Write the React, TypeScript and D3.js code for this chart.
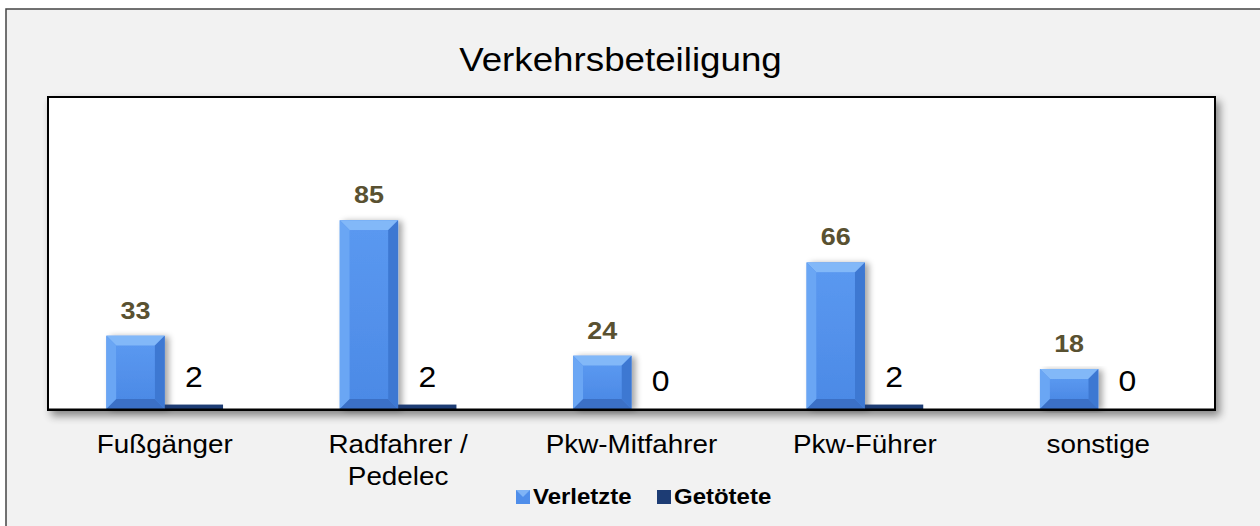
import React from "react";
import * as d3 from "d3";

const categories = ["Fußgänger", "Radfahrer / Pedelec", "Pkw-Mitfahrer", "Pkw-Führer", "sonstige"];
const verletzte = [33, 85, 24, 66, 18];
const getoetete = [2, 2, 0, 2, 0];
const seriesNames = ["Verletzte", "Getötete"];
const title = "Verkehrsbeteiligung";

const W = 1260;
const H = 526;
const plot = { left: 48, right: 1215, top: 97, bottom: 409 };
const FONT = "Arial, 'Liberation Sans', sans-serif";
const SX = 1.1;

function T(props: { x: number; y: number; size: number; anchor?: string; bold?: boolean; fill?: string; children: React.ReactNode }) {
  const { x, y, size, anchor = "middle", bold = false, fill = "#000", children } = props;
  return (
    <text transform={`translate(${x},${y}) scale(${SX},1)`} textAnchor={anchor} fontFamily={FONT}
      fontSize={size} fontWeight={bold ? "bold" : "normal"} fill={fill}>{children}</text>
  );
}

function BevelBar({ x, y, w, h }: { x: number; y: number; w: number; h: number }) {
  const b = Math.min(10, w / 2, h / 2);
  const x2 = x + w, y2 = y + h;
  return (
    <g filter="url(#barShadow)">
      <rect x={x} y={y} width={w} height={h} fill="#5190ec" />
      <polygon points={`${x},${y} ${x2},${y} ${x2 - b},${y + b} ${x + b},${y + b}`} fill="#82b8f8" />
      <polygon points={`${x},${y} ${x + b},${y + b} ${x + b},${y2 - b} ${x},${y2}`} fill="#6aa6f4" />
      <polygon points={`${x2},${y} ${x2},${y2} ${x2 - b},${y2 - b} ${x2 - b},${y + b}`} fill="#3e78d2" />
      <polygon points={`${x},${y2} ${x + b},${y2 - b} ${x2 - b},${y2 - b} ${x2},${y2}`} fill="#3a70c6" />
      <rect x={x + b} y={y + b} width={Math.max(0, w - 2 * b)} height={Math.max(0, h - 2 * b)} fill="url(#faceGrad)" />
    </g>
  );
}

export default function App() {
  const x0 = d3.scaleBand<string>().domain(categories).range([plot.left, plot.right]).paddingInner(0).paddingOuter(0);
  const groupW = x0.bandwidth() / 2;
  const x1 = d3.scaleBand<string>().domain(seriesNames).range([0, groupW]);
  const y = d3.scaleLinear().domain([0, 140]).range([plot.bottom, 98]);

  return (
    <svg width={W} height={H} style={{ position: "absolute", left: 0, top: 0, background: "#fff" }}>
      <defs>
        <filter id="plotShadow" x="-5%" y="-5%" width="110%" height="120%">
          <feGaussianBlur in="SourceAlpha" stdDeviation="4" />
          <feOffset dx="4" dy="5" result="ob" />
          <feComponentTransfer><feFuncA type="linear" slope="0.45" /></feComponentTransfer>
          <feMerge><feMergeNode /><feMergeNode in="SourceGraphic" /></feMerge>
        </filter>
        <filter id="barShadow" x="-20%" y="-10%" width="150%" height="120%">
          <feGaussianBlur in="SourceAlpha" stdDeviation="3" />
          <feOffset dx="4" dy="1" />
          <feComponentTransfer><feFuncA type="linear" slope="0.35" /></feComponentTransfer>
          <feMerge><feMergeNode /><feMergeNode in="SourceGraphic" /></feMerge>
        </filter>
        <linearGradient id="faceGrad" x1="0" y1="0" x2="0" y2="1">
          <stop offset="0" stopColor="#5a98f0" />
          <stop offset="1" stopColor="#4c8ae6" />
        </linearGradient>
      </defs>

      <rect x={6} y={9} width={W + 10} height={H + 10} fill="#f2f2f2" stroke="#444" strokeWidth={1.5} />

      <T x={(plot.left + plot.right) / 2 - 11} y={71} size={33.4}>{title}</T>

      <rect x={plot.left} y={plot.top} width={plot.right - plot.left} height={plot.bottom - plot.top + 1}
        fill="#fff" stroke="#000" strokeWidth={2} filter="url(#plotShadow)" />

      {categories.map((c, i) => {
        const gx = (x0(c) as number) + x0.bandwidth() / 4;
        const bx = gx + (x1("Verletzte") as number);
        const dx = gx + (x1("Getötete") as number);
        const bw = x1.bandwidth();
        return (
          <g key={c}>
            <BevelBar x={bx} y={y(verletzte[i])} w={bw} h={y(0) - y(verletzte[i])} />
            {getoetete[i] > 0 && (
              <rect x={dx} y={y(getoetete[i])} width={bw} height={y(0) - y(getoetete[i])} fill="#1d3c74" />
            )}
            <T x={bx + bw / 2} y={y(verletzte[i]) - 17} size={24.5} bold fill="#595131">{verletzte[i]}</T>
            <T x={dx + bw / 2} y={y(getoetete[i]) - 18} size={29}>{getoetete[i]}</T>
          </g>
        );
      })}

      <line x1={plot.left} x2={plot.right} y1={plot.bottom + 0.5} y2={plot.bottom + 0.5} stroke="#000" strokeWidth={2} />

      {categories.map((c) => {
        const cx = (x0(c) as number) + x0.bandwidth() / 2;
        const lines = c === "Radfahrer / Pedelec" ? ["Radfahrer /", "Pedelec"] : [c];
        return (
          <g key={c}>
            {lines.map((l, k) => (
              <T key={k} x={cx} y={453 + k * 32} size={25.3}>{l}</T>
            ))}
          </g>
        );
      })}

      <g>
        <rect x={516} y={490} width={14} height={14} fill="#4f8eea" />
        <polygon points="516,490 530,490 523,497" fill="#7fb4f6" />
        <T x={533} y={504} size={21.8} bold anchor="start">{seriesNames[0]}</T>
        <rect x={657} y={490} width={14} height={14} fill="#1d3c74" />
        <T x={674} y={504} size={21.8} bold anchor="start">{seriesNames[1]}</T>
      </g>
    </svg>
  );
}
